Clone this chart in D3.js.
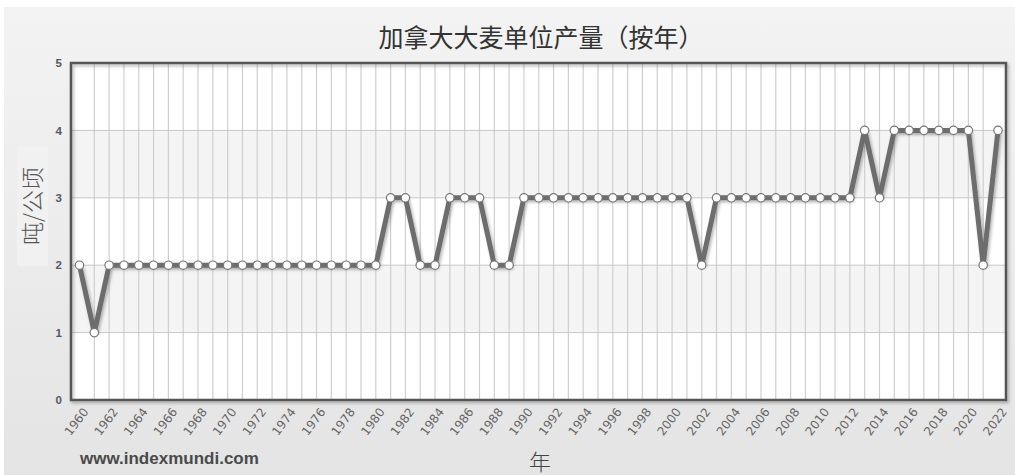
<!DOCTYPE html>
<html><head><meta charset="utf-8">
<script src="https://cdn.jsdelivr.net/npm/d3@7"></script>
<style>body{margin:0;background:#fff}svg{display:block}</style>
</head><body>
<svg id="c" width="1015" height="475"></svg>
<script>
const years = d3.range(1960, 2023);
const values = [2,1,2,2,2,2,2,2,2,2, 2,2,2,2,2,2,2,2,2,2, 2,3,3,2,2,3,3,3,2,2, 3,3,3,3,3,3,3,3,3,3, 3,3,2,3,3,3,3,3,3,3, 3,3,3,4,3,4,4,4,4,4, 4,2,4];
const yTicks = [0,1,2,3,4,5];
const xTickYears = d3.range(1960, 2023, 2);
const title = "加拿大大麦单位产量（按年）";
const yTitle = "吨/公顷";
const xTitle = "年";
const source = "www.indexmundi.com";

const svg = d3.select("#c");
const defs = svg.append("defs");
const g = defs.append("linearGradient").attr("id","bg").attr("x1",0).attr("y1",0).attr("x2",0).attr("y2",1);
g.append("stop").attr("offset","0%").attr("stop-color","#f3f3f3");
g.append("stop").attr("offset","100%").attr("stop-color","#e4e4e4");
const sh = defs.append("filter").attr("id","sh").attr("x","-10%").attr("y","-10%").attr("width","120%").attr("height","130%");
sh.append("feDropShadow").attr("dx",1.5).attr("dy",2).attr("stdDeviation",1.5).attr("flood-color","#000").attr("flood-opacity",0.3);

svg.append("rect").attr("x",4).attr("y",7).attr("width",1011).attr("height",468).attr("fill","url(#bg)");

const L = 71, R = 1006, T = 63, B = 400;
const x = d3.scaleLinear().domain([1960, 2022]).range([79.5, 998]);
const y = d3.scaleLinear().domain([0, 5]).range([B, T]);

svg.append("rect").attr("x",L).attr("y",T).attr("width",R-L).attr("height",B-T).attr("fill","#fff");
[1,3].forEach(v => {
  svg.append("rect").attr("x",L).attr("y",y(v+1)).attr("width",R-L).attr("height",y(v)-y(v+1)).attr("fill","#f4f4f4");
});
svg.append("g").selectAll("line").data(years.filter(d => d>1960 && d<2022)).join("line")
  .attr("x1",d=>x(d)).attr("x2",d=>x(d)).attr("y1",T).attr("y2",B)
  .attr("stroke","#cfcfcf").attr("stroke-width",1.2);
svg.append("g").selectAll("line").data(yTicks.filter(d=>d>0&&d<5)).join("line")
  .attr("x1",L).attr("x2",R).attr("y1",d=>y(d)).attr("y2",d=>y(d))
  .attr("stroke","#c8c8c8").attr("stroke-width",1);
svg.append("rect").attr("x",L).attr("y",T).attr("width",R-L).attr("height",B-T)
  .attr("fill","none").attr("stroke","#555").attr("stroke-width",2.5).attr("filter","url(#sh)");

const yAxis = d3.axisLeft(y).tickValues(yTicks).tickFormat(d3.format("d")).tickSize(0).tickPadding(9);
const ya = svg.append("g").attr("transform",`translate(${L},0)`).call(yAxis);
ya.select(".domain").remove();
ya.selectAll("text").attr("font-family","Liberation Sans, Arial, sans-serif").attr("font-weight","bold")
  .attr("font-size","11.5px").attr("fill","#4e5a68");

const xAxis = d3.axisBottom(x).tickValues(xTickYears).tickFormat(d3.format("d")).tickSize(0).tickPadding(0);
const xa = svg.append("g").attr("transform",`translate(0,${B})`).call(xAxis);
xa.select(".domain").remove();
xa.selectAll("text").attr("font-family","DejaVu Sans, sans-serif").attr("font-size","12px").attr("fill","#666")
  .attr("text-anchor","end").attr("dy",0).attr("dx",0)
  .attr("transform","translate(9,12) rotate(-53)");

const line = d3.line().x((d,i)=>x(years[i])).y(d=>y(d));
svg.append("path").datum(values).attr("d",line).attr("fill","none").attr("stroke","#6d6d6d")
  .attr("stroke-width",5).attr("stroke-linejoin","miter").attr("filter","url(#sh)");
svg.append("g").selectAll("circle").data(values).join("circle")
  .attr("cx",(d,i)=>x(years[i])).attr("cy",d=>y(d)).attr("r",4.2)
  .attr("fill","#fff").attr("stroke","#777").attr("stroke-width",1.2);

svg.append("text").attr("x",541).attr("y",47).attr("text-anchor","middle")
  .attr("font-family","Noto Sans CJK SC").attr("font-size","25px").attr("fill","#333").text(title);
svg.append("rect").attr("x",17).attr("y",146).attr("width",31).attr("height",120).attr("fill","#f1f1f1");
svg.append("text").attr("transform","translate(41,206) rotate(-90)").attr("text-anchor","middle")
  .attr("font-family","Noto Sans CJK SC").attr("font-weight","300").attr("font-size","23px").attr("fill","#555").text(yTitle);
svg.append("text").attr("x",540).attr("y",470).attr("text-anchor","middle")
  .attr("font-family","Noto Sans CJK SC").attr("font-weight","300").attr("font-size","22px").attr("fill","#444").text(xTitle);
svg.append("text").attr("x",80).attr("y",464)
  .attr("font-family","Liberation Sans, Arial, sans-serif").attr("font-weight","bold").attr("font-size","17px").attr("fill","#4a4a4a").text(source);
</script>
</body></html>
